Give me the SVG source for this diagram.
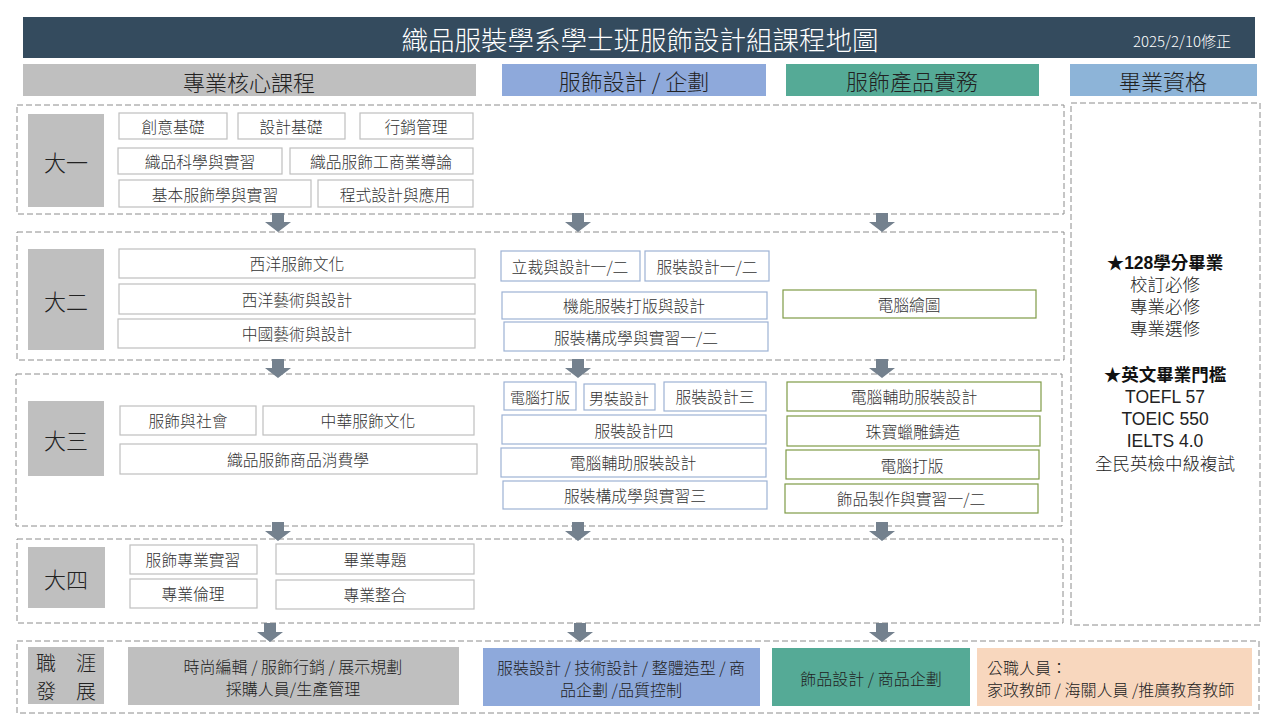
<svg xmlns="http://www.w3.org/2000/svg" width="1280" height="720" viewBox="0 0 1280 720">
<defs>
<style>
text{font-family:"Noto Sans CJK TC","Liberation Sans",sans-serif;font-weight:300;fill:#333;dominant-baseline:central;text-anchor:middle}
.zone{fill:none;stroke:#8c8c8c;stroke-width:1;stroke-dasharray:6,3}
.yr{fill:#BFBFBF}
.yt{font-size:22px;fill:#222}
.c{fill:#fff;stroke:#BFBFBF;stroke-width:1.2}
.d{fill:#fff;stroke:#9DB2D4;stroke-width:1.2}
.p{fill:#fff;stroke:#7F9B47;stroke-width:1.2}
.ct{font-size:15.8px}
.hd{font-size:22px;fill:#222}
.arr{fill:#74818E}
.g{font-family:"Liberation Sans","Noto Sans CJK TC",sans-serif;font-size:17.5px;fill:#222}
.gb{font-weight:bold;fill:#111}
.cr{font-size:16px;fill:#222}
</style>
</defs>
<rect width="1280" height="720" fill="#fff"/>
<g id="title">
<rect x="23" y="17" width="1232" height="41" fill="#344B5E"/>
<text x="640" y="38" style="font-size:26.5px;fill:#fff">織品服裝學系學士班服飾設計組課程地圖</text>
<text x="1182" y="40" style="font-size:15px;fill:#fff">2025/2/10修正</text>
</g>
<g id="headers">
<rect x="23" y="64" width="453" height="32" fill="#BFBFBF"/>
<text class="hd" x="249" y="81">專業核心課程</text>
<rect x="502" y="64" width="264" height="32" fill="#8EA9DB"/>
<text class="hd" x="634" y="80">服飾設計 / 企劃</text>
<rect x="786" y="64" width="253" height="32" fill="#55AA96"/>
<text class="hd" x="912" y="80">服飾產品實務</text>
<rect x="1070" y="64" width="187" height="32" fill="#8DB4D8"/>
<text class="hd" x="1163" y="80">畢業資格</text>
</g>
<g id="zones">
<rect class="zone" x="17" y="105" width="1047" height="109"/>
<rect class="zone" x="17" y="232" width="1047" height="128"/>
<rect class="zone" x="16" y="374" width="1046" height="152"/>
<rect class="zone" x="17" y="539" width="1046" height="84"/>
<rect class="zone" x="17" y="641" width="1242" height="72"/>
<rect class="zone" x="1071" y="103" width="189" height="522"/>
</g>
<g id="connectors">
<path class="arr" d="M272 213h12v9h7l-13 10l-13-10h7z"/>
<path class="arr" d="M572 213h12v9h7l-13 10l-13-10h7z"/>
<path class="arr" d="M876 213h12v9h7l-13 10l-13-10h7z"/>
<path class="arr" d="M272 359h12v9h7l-13 10l-13-10h7z"/>
<path class="arr" d="M572 359h12v9h7l-13 10l-13-10h7z"/>
<path class="arr" d="M876 359h12v9h7l-13 10l-13-10h7z"/>
<path class="arr" d="M272 522h12v9h7l-13 10l-13-10h7z"/>
<path class="arr" d="M572 522h12v9h7l-13 10l-13-10h7z"/>
<path class="arr" d="M876 522h12v9h7l-13 10l-13-10h7z"/>
<path class="arr" d="M264 623h12v9h7l-13 10l-13-10h7z"/>
<path class="arr" d="M574 623h12v9h7l-13 10l-13-10h7z"/>
<path class="arr" d="M876 623h12v9h7l-13 10l-13-10h7z"/>
</g>
<g id="year1">
<rect class="yr" x="28" y="114" width="76" height="93"/>
<text class="yt" x="66" y="161">大一</text>
<rect class="c" x="119" y="113" width="108" height="26"/><text class="ct" x="173" y="126">創意基礎</text>
<rect class="c" x="238" y="113" width="107" height="26"/><text class="ct" x="291" y="126">設計基礎</text>
<rect class="c" x="360" y="113" width="113" height="26"/><text class="ct" x="416" y="126">行銷管理</text>
<rect class="c" x="118" y="148" width="164" height="26"/><text class="ct" x="200" y="161">織品科學與實習</text>
<rect class="c" x="290" y="148" width="183" height="26"/><text class="ct" x="381" y="161">織品服飾工商業導論</text>
<rect class="c" x="119" y="180" width="192" height="27"/><text class="ct" x="215" y="194">基本服飾學與實習</text>
<rect class="c" x="318" y="180" width="155" height="27"/><text class="ct" x="395" y="194">程式設計與應用</text>
</g>
<g id="year2">
<rect class="yr" x="28" y="249" width="76" height="101"/>
<text class="yt" x="66" y="300">大二</text>
<rect class="c" x="119" y="249" width="356" height="29"/><text class="ct" x="297" y="263">西洋服飾文化</text>
<rect class="c" x="119" y="284" width="356" height="30"/><text class="ct" x="297" y="299">西洋藝術與設計</text>
<rect class="c" x="118" y="319" width="357" height="29"/><text class="ct" x="297" y="333">中國藝術與設計</text>
<rect class="d" x="501" y="251" width="139" height="30"/><text class="ct" x="570" y="266">立裁與設計一/二</text>
<rect class="d" x="645" y="251" width="124" height="30"/><text class="ct" x="707" y="266">服裝設計一/二</text>
<rect class="d" x="502" y="292" width="265" height="27"/><text class="ct" x="634" y="305">機能服裝打版與設計</text>
<rect class="d" x="504" y="322" width="264" height="29"/><text class="ct" x="636" y="337">服裝構成學與實習一/二</text>
<rect class="p" x="783" y="290" width="253" height="28"/><text class="ct" x="909" y="304">電腦繪圖</text>
</g>
<g id="year3">
<rect class="yr" x="28" y="401" width="76" height="75"/>
<text class="yt" x="66" y="439">大三</text>
<rect class="c" x="120" y="406" width="136" height="29"/><text class="ct" x="188" y="420">服飾與社會</text>
<rect class="c" x="263" y="406" width="211" height="29"/><text class="ct" x="368" y="420">中華服飾文化</text>
<rect class="c" x="120" y="444" width="357" height="30"/><text class="ct" x="298" y="459">織品服飾商品消費學</text>
<rect class="d" x="504" y="382" width="72" height="28"/><text class="ct" x="540" y="396" style="font-size:15px">電腦打版</text>
<rect class="d" x="584" y="384" width="71" height="26"/><text class="ct" x="619" y="397" style="font-size:15px">男裝設計</text>
<rect class="d" x="664" y="382" width="102" height="29"/><text class="ct" x="715" y="396">服裝設計三</text>
<rect class="d" x="502" y="415" width="264" height="29"/><text class="ct" x="634" y="430">服裝設計四</text>
<rect class="d" x="501" y="448" width="265" height="29"/><text class="ct" x="633" y="462">電腦輔助服裝設計</text>
<rect class="d" x="503" y="481" width="264" height="28"/><text class="ct" x="635" y="495">服裝構成學與實習三</text>
<rect class="p" x="787" y="382" width="254" height="29"/><text class="ct" x="914" y="396">電腦輔助服裝設計</text>
<rect class="p" x="787" y="416" width="253" height="30"/><text class="ct" x="913" y="431">珠寶蠟雕鑄造</text>
<rect class="p" x="786" y="450" width="253" height="29"/><text class="ct" x="912" y="465">電腦打版</text>
<rect class="p" x="785" y="484" width="253" height="29"/><text class="ct" x="911" y="498">飾品製作與實習一/二</text>
</g>
<g id="year4">
<rect class="yr" x="28" y="547" width="77" height="61"/>
<text class="yt" x="66" y="578">大四</text>
<rect class="c" x="130" y="545" width="127" height="29"/><text class="ct" x="193" y="559">服飾專業實習</text>
<rect class="c" x="276" y="544" width="198" height="30"/><text class="ct" x="375" y="559">畢業專題</text>
<rect class="c" x="130" y="579" width="127" height="29"/><text class="ct" x="193" y="593">專業倫理</text>
<rect class="c" x="276" y="580" width="198" height="29"/><text class="ct" x="375" y="594">專業整合</text>
</g>
<g id="career">
<rect class="yr" x="28" y="647" width="76" height="57"/>
<text x="66" y="662" style="font-size:20px;fill:#222">職　涯<tspan x="66" dy="28">發　展</tspan></text>
<rect x="128" y="647" width="331" height="58" fill="#BFBFBF"/>
<text class="cr" x="293" y="666">時尚編輯 / 服飾行銷 / 展示規劃<tspan x="293" dy="22">採購人員/生產管理</tspan></text>
<rect x="483" y="648" width="277" height="58" fill="#8EA9DB"/>
<text class="cr" x="621" y="667">服裝設計 / 技術設計 / 整體造型 / 商<tspan x="621" dy="22">品企劃 /品質控制</tspan></text>
<rect x="772" y="648" width="198" height="58" fill="#55AA96"/>
<text class="cr" x="871" y="678">飾品設計 / 商品企劃</text>
<rect x="977" y="648" width="275" height="58" fill="#F8D7BE"/>
<text class="cr" x="987" y="667" style="text-anchor:start">公職人員：<tspan x="987" dy="22">家政教師  / 海關人員 /推廣教育教師</tspan></text>
</g>
<g id="graduation">
<text class="g" x="1165" y="263"><tspan class="gb">★128學分畢業</tspan><tspan x="1165" dy="22">校訂必修</tspan><tspan x="1165" dy="22">專業必修</tspan><tspan x="1165" dy="22">專業選修</tspan></text>
<text class="g" x="1165" y="375"><tspan class="gb">★英文畢業門檻</tspan><tspan x="1165" dy="22">TOEFL 57</tspan><tspan x="1165" dy="22">TOEIC 550</tspan><tspan x="1165" dy="22">IELTS 4.0</tspan><tspan x="1165" dy="23">全民英檢中級複試</tspan></text>
</g>
</svg>
